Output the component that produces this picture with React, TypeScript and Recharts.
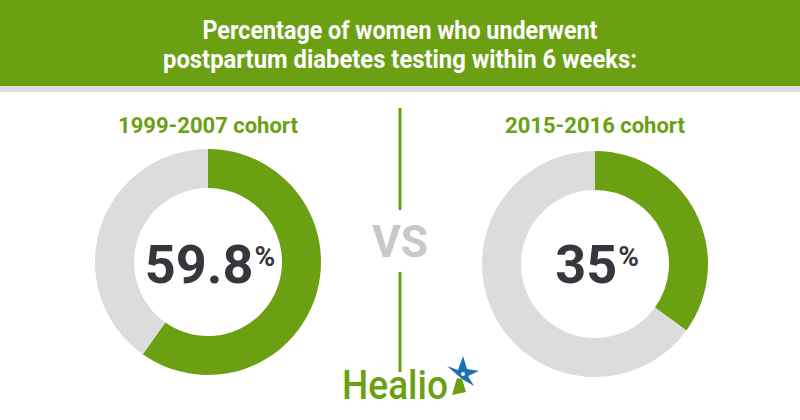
import { PieChart, Pie, Cell } from 'recharts'

const cohorts = ['1999-2007 cohort', '2015-2016 cohort']
const tested = [59.8, 35]
const valueLabels = ['59.8', '35']
const titleLines = [
  'Percentage of women who underwent',
  'postpartum diabetes testing within 6 weeks:',
]

const GREEN = '#6ba013'
const GRAY = '#dcdcdc'
const DARK = '#34383c'
const FONT = 'Roboto, "Noto Sans", sans-serif'

const centers = [
  { cx: 208, cy: 262 },
  { cx: 595, cy: 264 },
]

export default function App() {
  const data = tested.map((v) => [
    { name: 'tested', value: v },
    { name: 'not tested', value: 100 - v },
  ])

  return (
    <div style={{ position: 'fixed', left: 0, top: 0, width: 800, height: 420, background: '#fff' }}>
      <svg width={800} height={420} style={{ position: 'absolute', left: 0, top: 0 }}>
        <rect x={0} y={0} width={800} height={86} fill={GREEN} />
        <rect x={0} y={86} width={800} height={6} fill="#dedede" />
        <text x={400} y={39} textAnchor="middle" fill="#fff" fontFamily={FONT} fontWeight={700} fontSize={26}
          textLength={395} lengthAdjust="spacingAndGlyphs">
          {titleLines[0]}
        </text>
        <text x={400} y={68} textAnchor="middle" fill="#fff" fontFamily={FONT} fontWeight={700} fontSize={26}
          textLength={474} lengthAdjust="spacingAndGlyphs">
          {titleLines[1]}
        </text>
        {/* divider */}
        <line x1={400} y1={108} x2={400} y2={210} stroke={GREEN} strokeWidth={3} />
        <line x1={400} y1={272} x2={400} y2={372} stroke={GREEN} strokeWidth={3} />
        <text x={400} y={257} textAnchor="middle" fill="#c8c8c8" fontFamily={FONT} fontWeight={700} fontSize={44}>
          VS
        </text>
      </svg>

      <div style={{ position: 'absolute', left: 0, top: 0 }}>
        <PieChart width={800} height={420} margin={{ top: 0, right: 0, bottom: 0, left: 0 }}>
          {data.map((d, i) => (
            <Pie
              key={i}
              data={d}
              dataKey="value"
              cx={centers[i].cx}
              cy={centers[i].cy}
              innerRadius={74}
              outerRadius={113}
              startAngle={90}
              endAngle={-270}
              stroke="none"
              isAnimationActive={false}
            >
              <Cell fill={GREEN} />
              <Cell fill={GRAY} />
            </Pie>
          ))}
        </PieChart>
      </div>

      <svg width={800} height={420} style={{ position: 'absolute', left: 0, top: 0, pointerEvents: 'none' }}>
        {cohorts.map((c, i) => (
          <text key={c} x={centers[i].cx} y={133} textAnchor="middle" fill={GREEN} fontFamily={FONT}
            fontWeight={700} fontSize={22}>
            {c}
          </text>
        ))}
        {valueLabels.map((v, i) => (
          <text key={v} x={centers[i].cx + 2} y={283} textAnchor="middle" fill={DARK} fontFamily={FONT}
            fontWeight={700} fontSize={54}>
            {v}
            <tspan fontSize={28} dx={1} dy={-17}>%</tspan>
          </text>
        ))}
        {/* Healio logo */}
        <text x={342} y={399} fill={GREEN} fontFamily={FONT} fontWeight={500} fontSize={40} textLength={106}
          lengthAdjust="spacingAndGlyphs">
          Healio
        </text>
        <polygon points="463,356 467,369 479,371 468,376 474,386 462,379 447,366 458,370" fill="#1f6fb2" />
        <polygon points="457,378 462,379 466,392 452,395" fill={GREEN} />
        <circle cx={463} cy={374} r={2} fill="#fff" />
      </svg>
    </div>
  )
}
